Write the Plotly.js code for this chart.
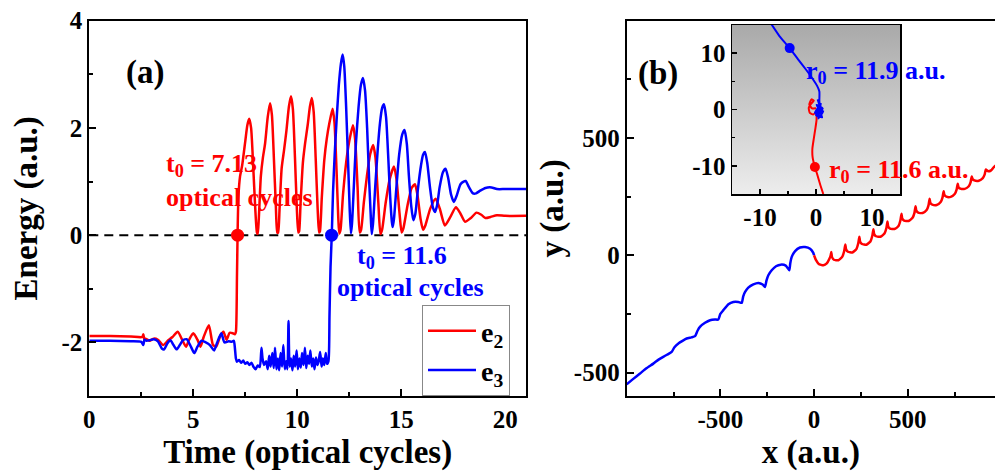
<!DOCTYPE html>
<html>
<head>
<meta charset="utf-8">
<script src="https://cdn.plot.ly/plotly-3.0.1.min.js"></script>
<style>html,body{margin:0;padding:0;background:#fff;overflow:hidden}</style>
</head>
<body>
<div id="chart" style="width:995px;height:472px"></div>
<script>
// ---------- Panel (a): energy vs time ----------
const time_e2 = [0,1,2,2.55,2.6,2.65,2.7,2.9,3.1,3.3,
 3.55,3.8,4.0,4.25,4.5,4.65,4.8,5.0,5.2,5.35,
 5.5,5.75,5.95,6.1,6.3,6.45,6.6,6.75,6.9,7.0,
 7.05,7.1,7.13,7.17,7.25,7.35,7.5,7.6,7.69,7.78,
 7.88,7.98,8.06,8.1,8.15,8.25,8.35,8.45,8.58,8.69,
 8.78,8.88,8.97,9.04,9.08,9.15,9.25,9.37,9.48,9.6,
 9.7,9.79,9.89,9.98,10.05,10.09,10.16,10.27,10.38,10.5,
 10.61,10.7,10.79,10.89,10.98,11.05,11.09,11.18,11.3,11.42,
 11.55,11.7,11.79,11.89,11.97,12.02,12.08,12.2,12.35,12.5,
 12.68,12.78,12.9,13.0,13.07,13.2,13.35,13.5,13.65,13.76,
 13.9,14.0,14.08,14.25,14.45,14.65,14.77,14.92,15.02,15.1,
 15.3,15.5,15.66,15.78,15.93,16.05,16.15,16.4,16.65,16.85,
 17.1,17.35,17.63,17.85,18.07,18.35,18.62,18.85,19.05,19.3,
 19.6,20,21];
const energy_e2 = [-1.88,-1.88,-1.89,-1.9,-1.85,-1.95,-1.93,-1.97,-1.93,-1.95,
 -2.05,-1.96,-1.9,-1.8,-1.98,-2.08,-1.95,-1.83,-1.95,-2.08,
 -1.9,-1.68,-2.05,-2.08,-1.88,-1.8,-1.95,-1.82,-1.83,-1.85,
 -1.8,-0.8,0,0.7,1.1,1.3,1.75,2.05,2.17,2.0,
 1.3,0.5,0.05,0.02,0.3,1.1,1.45,1.7,2.2,2.46,
 2.25,1.4,0.55,0.05,0.05,0.5,1.25,1.6,1.95,2.4,
 2.59,2.35,1.45,0.5,0.05,0.07,0.6,1.35,1.72,2.05,
 2.4,2.56,2.3,1.4,0.5,0.05,0.07,0.7,1.4,1.8,
 2.1,2.36,2.1,1.2,0.35,0.03,0.1,0.75,1.35,1.75,
 2.05,1.8,0.9,0.05,0.1,0.6,1.1,1.5,1.68,1.45,
 0.6,0.02,0.1,0.6,1.05,1.28,1.05,0.4,0.05,0.12,
 0.55,0.88,0.95,0.75,0.3,0.1,0.17,0.5,0.68,0.5,
 0.18,0.33,0.52,0.4,0.25,0.32,0.42,0.38,0.32,0.34,
 0.37,0.36,0.36];

const time_e3 = [0,1,2,2.5,2.6,2.65,2.75,2.9,3.1,3.3,
 3.5,3.6,3.75,3.9,4.05,4.2,4.35,4.5,4.68,4.85,
 5.05,5.2,5.4,5.6,5.8,6.0,6.15,6.35,6.5,6.7,
 6.85,6.95,7.0,7.05,7.1,7.2,7.3,7.4,7.5,7.6,
 7.7,7.8,7.9,8.0,8.1,8.2,8.28,8.33,8.4,8.5,
 8.58,8.65,8.72,8.8,8.87,8.93,9.0,9.07,9.13,9.2,
 9.27,9.33,9.4,9.47,9.53,9.58,9.63,9.7,9.77,9.83,
 9.9,9.97,10.03,10.1,10.17,10.23,10.3,10.37,10.43,10.5,
 10.57,10.63,10.7,10.77,10.83,10.9,10.97,11.03,11.1,11.17,
 11.23,11.3,11.37,11.43,11.5,11.55,11.6,11.66,11.72,11.8,
 11.9,12.0,12.1,12.18,12.26,12.35,12.45,12.52,12.58,12.63,
 12.72,12.82,12.95,13.06,13.16,13.26,13.36,13.46,13.53,13.58,
 13.64,13.75,13.87,13.98,14.08,14.17,14.27,14.37,14.47,14.55,
 14.59,14.65,14.77,14.9,15.05,15.16,15.27,15.37,15.48,15.58,
 15.68,15.8,15.95,16.05,16.14,16.25,16.38,16.52,16.62,16.72,
 16.85,17.0,17.13,17.25,17.4,17.53,17.65,17.85,18.0,18.1,
 18.25,18.45,18.6,18.8,19.05,19.34,19.6,20,21];
const energy_e3 = [-1.97,-1.97,-1.98,-1.99,-2.05,-1.95,-1.97,-1.96,-1.94,-1.98,
 -2.12,-2.13,-2.02,-1.96,-2.05,-2.13,-2.05,-1.96,-1.94,-2.05,
 -2.2,-2.08,-1.97,-2.0,-2.05,-2.15,-2.0,-1.83,-2.0,-1.98,
 -1.99,-1.97,-2.1,-2.3,-2.36,-2.33,-2.38,-2.34,-2.4,-2.37,
 -2.42,-2.38,-2.46,-2.5,-2.43,-2.46,-2.1,-2.3,-2.42,-2.35,
 -2.5,-2.25,-2.45,-2.2,-2.48,-2.1,-2.5,-2.3,-2.52,-2.2,
 -2.45,-2.05,-2.5,-2.35,-2.5,-1.6,-2.45,-2.3,-2.52,-2.25,
 -2.45,-2.15,-2.5,-2.3,-2.47,-2.2,-2.42,-2.1,-2.48,-2.25,
 -2.4,-2.15,-2.45,-2.3,-2.5,-2.28,-2.42,-2.35,-2.18,-2.45,
 -2.3,-2.42,-2.2,-2.4,-2.35,-1.5,-0.6,0.0,0.8,1.5,
 2.2,2.8,3.2,3.37,3.15,2.4,1.3,0.5,0.03,0.2,
 0.9,1.7,2.4,2.8,2.93,2.7,2.0,1.0,0.4,0.02,
 0.2,0.9,1.6,2.1,2.37,2.44,2.2,1.5,0.7,0.25,
 0.15,0.3,0.9,1.5,1.88,1.96,1.7,1.1,0.55,0.28,
 0.4,0.85,1.3,1.5,1.55,1.35,0.9,0.52,0.43,0.55,
 0.9,1.17,1.24,1.08,0.75,0.62,0.72,0.95,1.0,1.01,
 0.9,0.78,0.78,0.83,0.88,0.89,0.86,0.86,0.86];

const onset_t_e2 = [7.13], onset_E_e2 = [0];
const onset_t_e3 = [11.65], onset_E_e3 = [0];

const ticks_a_x = [0,5,10,15,20];
const ticks_a_y = [-2,0,2,4];
const ticktext_a_y = ['-2','0','2','4'];

// ---------- Panel (b): trajectories ----------
const traj_e2_x = [0,10,25,50,68,82,89,92,
 96,106,130,151,161,167,
 171,181,204.5,226,236,242,
 246,256,279.5,301,311,317,
 321,331,354.5,376,386,392,
 396,406,429.5,451,461,467,
 471,481,504.5,526,536,542,
 546,556,579.5,601,611,617,
 621,631,654.5,676,686,692,
 696,706,729.5,751,761,767,
 771,781,804.5,826,836,842,
 846,856,879.5,901,911,917,
 930,945,960,975,1000];
const traj_e2_y = [0,-20,-37,-43,-35,-15,0,14,
 -8,-19,-21,-6,18,46,
 26,15,12,26,51,79,
 58,48,45,59,83,111,
 90,81,79,93,115,144,
 123,114,112,125,148,177,
 156,148,146,160,181,209,
 190,182,180,193,213,241,
 223,216,214,227,247,273,
 257,250,249,261,280,305,
 290,284,283,294,312,336,
 325,319,318,329,345,366,
 358,362,376,385,392];

const traj_e3_x = [-1000,-965,-929,-895,-858,-830,-805,-785,-760,
 -745,-724,-700,-680,-655,-635,
 -622,-609,-582,-555,-529,-511,
 -500,-484,-457,-431,-404,-386,
 -378,-368,-351,-324,-297,-274,-262,
 -254,-244,-226,-203,-178,-151,-132,
 -127,-119,-101,-75,-48,-21,-4,0];
const traj_e3_y = [-550,-527,-504,-482,-462,-445,-433,-424,-412,
 -392,-376,-364,-355,-350,-345,
 -322,-305,-288,-277,-274,-274,
 -250,-234,-209,-199,-199,-203,
 -175,-156,-138,-124,-118,-125,-135,
 -108,-85,-64,-47,-40,-44,-64,
 -35,-7,18,33,35,28,10,0];

const ticks_b = [-500,0,500];
const ticktext_b = ['-500','0','500'];

// inset (zoom near origin)
const inset_e3_x = [-8,-6.5,-4.7,-3.2,-1.8,-0.7,0.2,0.6,0.6,0.7,0.3,1.0,0.1,1.2,0.2,0.9,-0.2,1.3,0.4,0.8,0.0,1.1,0.5];
const inset_e3_y = [15.2,13,10.9,8.9,7.1,5.6,4.2,3.2,1.5,0.5,1.8,-0.5,0.8,0.2,-1.2,1.0,-0.6,-0.3,-1.6,0.6,-1.0,-1.4,0.0];
const inset_e2_x = [1.3,0.8,0.3,-0.2,-0.6,-0.65,-0.4,-0.1,0.1,0.0,-0.5,-1.1,-1.3,-0.9,-0.4,-0.8,-1.2,-0.7,0.0];
const inset_e2_y = [-15,-13.5,-11.8,-10.2,-8.5,-7.0,-5.2,-3.3,-1.8,-0.5,-0.9,-0.6,0.3,1.0,1.6,1.8,0.9,0.2,0.2];
const start_e3_x = [-4.7], start_e3_y = [10.9];
const start_e2_x = [-0.2], start_e2_y = [-10.2];
const ticks_inset = [-10,0,10];
const ticktext_inset = ['-10','0','10'];

const RED = '#ff0000', BLUE = '#0000ff';
const FONT = 'Liberation Serif, Times New Roman, serif';

const traces = [
 {x: time_e2, y: energy_e2, type:'scatter', mode:'lines', name:'e<sub>2</sub>',
  line:{color:RED, width:2.5, shape:'spline', smoothing:0.6}, xaxis:'x', yaxis:'y'},
 {x: time_e3, y: energy_e3, type:'scatter', mode:'lines', name:'e<sub>3</sub>',
  line:{color:BLUE, width:2.5, shape:'spline', smoothing:0.6}, xaxis:'x', yaxis:'y'},
 {x: onset_t_e2, y: onset_E_e2, type:'scatter', mode:'markers', showlegend:false,
  marker:{color:RED, size:13}, xaxis:'x', yaxis:'y'},
 {x: onset_t_e3, y: onset_E_e3, type:'scatter', mode:'markers', showlegend:false,
  marker:{color:BLUE, size:13}, xaxis:'x', yaxis:'y'},
 {x: traj_e3_x, y: traj_e3_y, type:'scatter', mode:'lines', showlegend:false,
  line:{color:BLUE, width:2.5, shape:'spline', smoothing:0.5}, xaxis:'x2', yaxis:'y2'},
 {x: traj_e2_x, y: traj_e2_y, type:'scatter', mode:'lines', showlegend:false,
  line:{color:RED, width:2.5, shape:'spline', smoothing:0.5}, xaxis:'x2', yaxis:'y2'},
 {x: inset_e2_x, y: inset_e2_y, type:'scatter', mode:'lines', showlegend:false,
  line:{color:RED, width:2, shape:'spline', smoothing:0.5}, xaxis:'x3', yaxis:'y3'},
 {x: inset_e3_x, y: inset_e3_y, type:'scatter', mode:'lines', showlegend:false,
  line:{color:BLUE, width:2, shape:'spline', smoothing:0.5}, xaxis:'x3', yaxis:'y3'},
 {x: start_e3_x, y: start_e3_y, type:'scatter', mode:'markers', showlegend:false,
  marker:{color:BLUE, size:10}, xaxis:'x3', yaxis:'y3'},
 {x: start_e2_x, y: start_e2_y, type:'scatter', mode:'markers', showlegend:false,
  marker:{color:RED, size:10}, xaxis:'x3', yaxis:'y3'}
];

function ax(extra) {
 return Object.assign({
  showline:true, linecolor:'#000', linewidth:2, mirror:true,
  ticks:'inside', ticklen:7, tickwidth:2, tickcolor:'#000',
  showgrid:false, zeroline:false, fixedrange:true,
  tickfont:{family:FONT, size:25, color:'#000', weight:700}
 }, extra);
}
function minor(d, len, w) {
 return {dtick:d, ticks:'inside', ticklen:len || 4, tickwidth:w || 2, tickcolor:'#000', showgrid:false};
}
const W = 995, H = 472;
const px = v => v / W, py = v => 1 - v / H;

const gradSvg = 'data:image/svg+xml;utf8,' + encodeURIComponent(
 '<svg xmlns="http://www.w3.org/2000/svg" width="10" height="100" viewBox="0 0 10 100" preserveAspectRatio="none">' +
 '<defs><linearGradient id="g" x1="0" y1="0" x2="0" y2="1">' +
 '<stop offset="0" stop-color="#a9a9a9"/><stop offset="1" stop-color="#ededed"/></linearGradient></defs>' +
 '<rect width="10" height="100" fill="url(#g)"/></svg>');

const titleFont = {family:FONT, size:33, color:'#000', weight:700};
const annFont = (c, s) => ({family:FONT, size:s || 26, color:c, weight:700});

const layout = {
 width: W, height: H,
 margin:{l:0, r:0, t:0, b:0},
 paper_bgcolor:'#fff', plot_bgcolor:'rgba(0,0,0,0)',
 font:{family:FONT, color:'#000', weight:700, size:25},
 hovermode:false,
 showlegend:true,
 legend:{x:px(422), y:py(305), xanchor:'left', yanchor:'top',
  bgcolor:'#fff', bordercolor:'#888', borderwidth:1, itemwidth:48,
  font:{family:FONT, size:28, color:'#000', weight:700}, tracegroupgap:0},
 xaxis: ax({domain:[px(89.3), px(526)], range:[0,21], tickvals:ticks_a_x, minor:minor(2.5),
  anchor:'y', title:{text:'Time (optical cycles)', font:titleFont, standoff:8}}),
 yaxis: ax({domain:[py(396), py(20.7)], range:[-3,4], tickvals:ticks_a_y, ticktext:ticktext_a_y, minor:minor(1),
  anchor:'x', title:{text:'Energy (a.u.)', font:titleFont, standoff:14}}),
 xaxis2: ax({domain:[px(626.7), 1], range:[-1000, 966], tickvals:ticks_b, ticktext:ticktext_b, minor:minor(250),
  anchor:'y2', title:{text:'x (a.u.)', font:titleFont, standoff:8}}),
 yaxis2: ax({domain:[py(396), py(20.7)], range:[-600, 1000], tickvals:ticks_b, ticktext:ticktext_b, mirror:false, minor:minor(250),
  anchor:'x2', title:{text:'y (a.u.)', font:titleFont, standoff:0}}),
 xaxis3: ax({domain:[px(732), px(900)], range:[-15,15], tickvals:ticks_inset, ticktext:ticktext_inset, linewidth:1.5, ticklen:5, tickwidth:1.5,
  minor:minor(5, 3, 1.5), anchor:'y3'}),
 yaxis3: ax({domain:[py(194), py(25)], range:[-15,15], tickvals:ticks_inset, ticktext:ticktext_inset, linewidth:1.5, ticklen:5, tickwidth:1.5,
  minor:minor(5, 3, 1.5), anchor:'x3'}),
 images:[{source:gradSvg, xref:'x3 domain', yref:'y3 domain', x:0, y:1, sizex:1, sizey:1,
  xanchor:'left', yanchor:'top', sizing:'stretch', layer:'below'}],
 shapes:[{type:'line', xref:'x domain', yref:'y', x0:0, x1:1, y0:0, y1:0, layer:'below',
  line:{color:'#000', width:2, dash:'9px,6px'}}],
 annotations:[
  {xref:'paper', yref:'paper', x:px(124), y:py(52), text:'(a)', showarrow:false, font:annFont('#000', 33)},
  {xref:'paper', yref:'paper', x:px(658), y:py(53), text:'(b)', showarrow:false, font:annFont('#000', 33)},
  {xref:'paper', yref:'paper', x:px(164), y:py(165), text:'t<sub>0</sub> = 7.13', showarrow:false, font:annFont(RED)},
  {xref:'paper', yref:'paper', x:px(164), y:py(197), text:'optical cycles', showarrow:false, font:annFont(RED)},
  {xref:'paper', yref:'paper', x:px(402), y:py(257), text:'t<sub>0</sub> = 11.6', showarrow:false, font:annFont(BLUE)},
  {xref:'paper', yref:'paper', x:px(410), y:py(287), text:'optical cycles', showarrow:false, font:annFont(BLUE)},
  {xref:'paper', yref:'paper', x:px(804), y:py(54), xanchor:'left', text:'r<sub>0</sub> = 11.9 a.u.', showarrow:false, font:annFont(BLUE)},
  {xref:'paper', yref:'paper', x:px(827), y:py(171), xanchor:'left', text:'r<sub>0</sub> = 11.6 a.u.', showarrow:false, font:annFont(RED)}
 ]
};

Plotly.newPlot('chart', traces, layout, {staticPlot:true, displayModeBar:false});
</script>
</body>
</html>
